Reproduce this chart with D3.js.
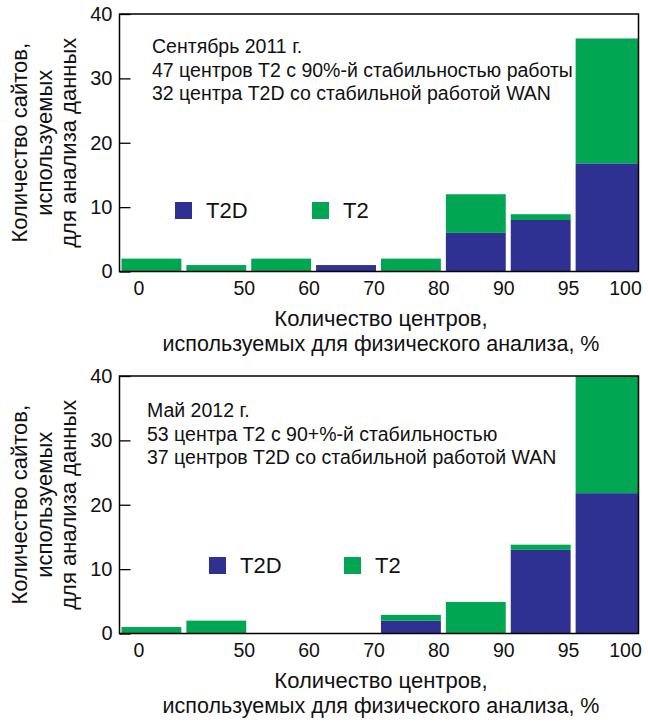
<!DOCTYPE html>
<html>
<head>
<meta charset="utf-8">
<script src="https://cdn.jsdelivr.net/npm/d3@7"></script>
<style>
body{margin:0;background:#fff}
svg{display:block}
svg text{font-family:"Liberation Sans",Arial,sans-serif}
</style>
</head>
<body>
<svg id="canvas" width="648" height="723"></svg>
<script>
// bins of the x axis and the labels under them
const bins=["0-40","40-50","50-60","60-70","70-80","80-90","90-95","95-100"]
const tickLabels=["0","50","60","70","80","90","95","100"]
const yTicks=[0,10,20,30,40]
const keys=["T2D","T2"]

// September 2011
const sepT2D=[0,0,0,1,0,6,8,16.8]
const sepT2=[2,1,2,0,2,6,0.9,19.4]
const sepNote=["Сентябрь 2011 г.","47 центров T2 с 90%-й стабильностью работы","32 центра T2D со стабильной работой WAN"]

// May 2012
const mayT2D=[0,0,0,0,2,0,13,21.8]
const mayT2=[1,2,0,0,0.9,4.9,0.8,18.2]
const mayNote=["Май 2012 г.","53 центра T2 с 90+%-й стабильностью","37 центров T2D со стабильной работой WAN"]

const colors={T2D:"#2e3192",T2:"#00a651"}
const canvas=d3.select("#canvas")

let drawPanel=(top,t2d,t2,note,opt)=>{
    const left=119.5,right=638.5,bottom=top+257.5
    const x=d3.scaleLinear().domain([0,bins.length]).range([left,right])
    const y=d3.scaleLinear().domain([0,40]).range([bottom,top])
    const rows=bins.map((b,i)=>({bin:b,i:i,T2D:t2d[i],T2:t2[i]}))
    const series=d3.stack().keys(keys)(rows)
    const g=canvas.append("g")

    series.forEach(s=>{
        g.selectAll(null)
         .data(s.filter(d=>d[1]-d[0]>0))
         .enter()
         .append("rect")
         .attr("x",d=>x(d.data.i)+2)
         .attr("width",d=>d.data.i===bins.length-1?x(d.data.i+1)-x(d.data.i)-2:x(d.data.i+1)-x(d.data.i)-5)
         .attr("y",d=>y(d[1]))
         .attr("height",d=>y(d[0])-y(d[1]))
         .attr("fill",colors[s.key])
    })

    // frame
    g.append("rect")
     .attr("x",left).attr("y",top)
     .attr("width",right-left).attr("height",bottom-top)
     .attr("fill","none").attr("stroke","#000").attr("stroke-width",1.5)

    // y ticks, pointing inward
    const yAxis=d3.axisLeft(y).tickValues(yTicks).tickSizeInner(-11).tickSizeOuter(0).tickPadding(7)
    const ya=g.append("g").attr("transform",`translate(${left},0)`).call(yAxis)
    ya.attr("font-family",null)
    ya.select(".domain").remove()
    ya.selectAll(".tick line").attr("stroke-width",1.3)
    ya.selectAll("text").attr("font-size",20).attr("fill","#111")

    // x tick labels sit at the bin edges
    g.selectAll(null)
     .data(tickLabels)
     .enter()
     .append("text")
     .attr("x",(d,i)=>i===0?x(0.3):i===tickLabels.length-1?x(i+1)-13:x(i+1)-5)
     .attr("y",bottom+23)
     .attr("text-anchor","middle")
     .attr("font-size",19.5)
     .attr("fill","#111")
     .text(d=>d)

    // annotation
    g.selectAll(null)
     .data(note)
     .enter()
     .append("text")
     .attr("x",opt.noteX)
     .attr("y",(d,i)=>top+opt.noteDy+i*23.5)
     .attr("font-size",19.5)
     .attr("fill","#111")
     .text(d=>d)

    // legend
    const lg=g.selectAll(null)
              .data(keys)
              .enter()
              .append("g")
              .attr("transform",(d,i)=>`translate(${opt.legX[i]},${top+opt.legDy})`)
    lg.append("rect").attr("width",17).attr("height",17).attr("fill",d=>colors[d])
    lg.append("text").attr("x",31).attr("y",16).attr("font-size",22).attr("fill","#111").text(d=>d)

    // y title
    const yt=g.append("text")
              .attr("transform",`translate(0,${(top+bottom)/2}) rotate(-90)`)
              .attr("text-anchor","middle")
              .attr("font-size",22)
              .attr("fill","#111")
    ;["Количество сайтов,","используемых","для анализа данных"].forEach((t,i)=>{
        yt.append("tspan").attr("x",0).attr("y",27+i*24.5).text(t)
    })

    // x title
    g.append("text").attr("x",381).attr("y",bottom+54).attr("text-anchor","middle").attr("font-size",22).attr("fill","#111").text("Количество центров,")
    g.append("text").attr("x",381).attr("y",bottom+79).attr("text-anchor","middle").attr("font-size",21.5).attr("fill","#111").text("используемых для физического анализа, %")
}

drawPanel(14,sepT2D,sepT2,sepNote,{noteX:152,noteDy:39,legX:[175,312],legDy:188})
drawPanel(376,mayT2D,mayT2,mayNote,{noteX:147,noteDy:41,legX:[209,344],legDy:181})
</script>
</body>
</html>
